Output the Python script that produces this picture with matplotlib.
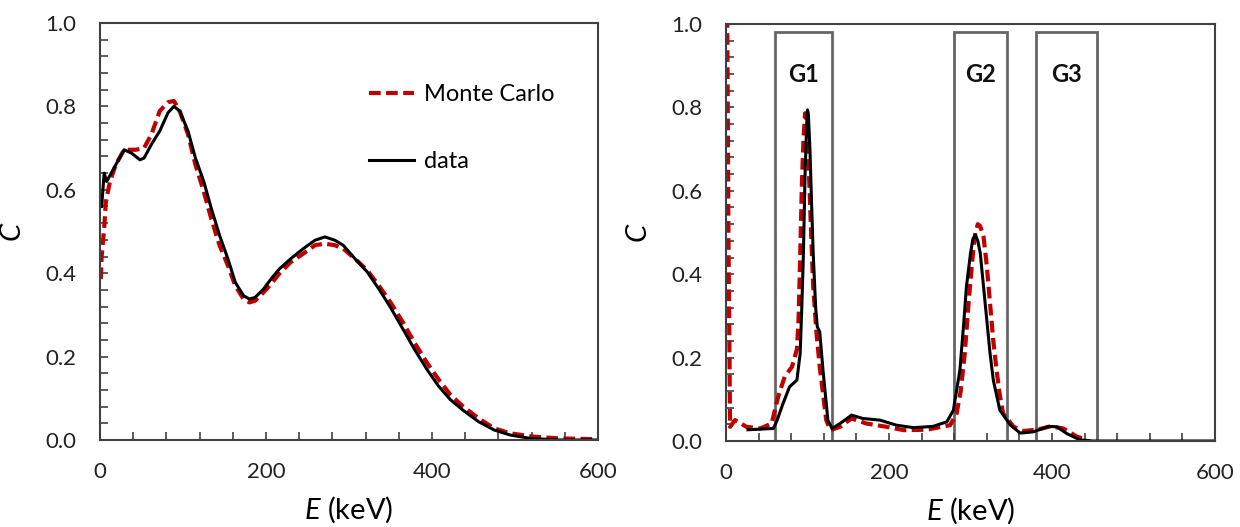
import matplotlib.pyplot as plt
from matplotlib.patches import Rectangle
from matplotlib.ticker import MultipleLocator

plt.rcParams['font.family'] = ['Lato', 'DejaVu Sans']
plt.rcParams['mathtext.fontset'] = 'custom'
plt.rcParams['mathtext.it'] = 'Lato:italic'
plt.rcParams['mathtext.rm'] = 'Lato'

# left panel: spectrum
e_data_l = [2, 5, 8, 19, 29, 38, 48, 53, 62, 72, 82, 89, 96, 106, 115, 125, 134, 144, 154,
            163, 173, 180, 187, 197, 206, 216, 230, 245, 259, 271, 283, 293, 307, 322, 336,
            350, 365, 379, 394, 408, 422, 437, 456, 475, 494, 518, 552, 600]
c_data_l = [0.56, 0.64, 0.62, 0.66, 0.696, 0.688, 0.672, 0.676, 0.709, 0.741, 0.785, 0.80,
            0.789, 0.741, 0.676, 0.62, 0.556, 0.491, 0.435, 0.378, 0.346, 0.338, 0.342,
            0.362, 0.386, 0.41, 0.435, 0.459, 0.479, 0.487, 0.479, 0.467, 0.435, 0.403,
            0.362, 0.318, 0.266, 0.217, 0.169, 0.129, 0.097, 0.072, 0.044, 0.024, 0.012,
            0.004, 0.0, 0.0]
e_mc_l = [1, 2, 5, 7, 12, 19, 29, 43, 53, 62, 72, 82, 89, 96, 106, 115, 125, 134, 144, 154,
          163, 173, 180, 187, 197, 206, 216, 230, 245, 259, 271, 283, 293, 307, 322, 336,
          350, 365, 379, 394, 408, 422, 437, 456, 475, 494, 523, 552, 595]
c_mc_l = [0.386, 0.44, 0.507, 0.57, 0.62, 0.66, 0.696, 0.696, 0.70, 0.733, 0.789, 0.81,
          0.813, 0.789, 0.733, 0.66, 0.596, 0.531, 0.467, 0.419, 0.37, 0.338, 0.33, 0.334,
          0.354, 0.374, 0.399, 0.427, 0.447, 0.467, 0.471, 0.467, 0.459, 0.435, 0.407,
          0.37, 0.33, 0.282, 0.233, 0.185, 0.145, 0.109, 0.081, 0.052, 0.028, 0.016,
          0.008, 0.004, 0.002]

# right panel: spectrum with energy windows
e_data_r = [27, 58, 62, 70, 78, 87, 91, 93, 95, 97, 99, 100, 101, 103, 105, 107, 110, 112,
            115, 119, 125, 130, 140, 154, 168, 189, 209, 230, 254, 271, 279, 287, 292, 295,
            300, 303, 306, 309, 312, 316, 320, 324, 328, 336, 349, 361, 377, 396, 406, 418,
            434, 450, 600]
c_data_r = [0.027, 0.03, 0.046, 0.09, 0.13, 0.146, 0.21, 0.32, 0.45, 0.64, 0.76, 0.794,
            0.785, 0.70, 0.57, 0.45, 0.32, 0.274, 0.262, 0.17, 0.05, 0.03, 0.042, 0.062,
            0.054, 0.05, 0.038, 0.032, 0.035, 0.046, 0.074, 0.17, 0.29, 0.37, 0.45, 0.485,
            0.494, 0.48, 0.45, 0.37, 0.29, 0.21, 0.146, 0.074, 0.038, 0.019, 0.022, 0.035,
            0.034, 0.018, 0.003, 0.0, 0.0]
e_mc_r = [1, 3, 5, 11, 15, 25, 42, 56, 64, 72, 81, 87, 89, 91, 93, 95, 97, 99, 101, 104,
          107, 111, 115, 123, 128, 140, 154, 172, 197, 218, 246, 275, 283, 288, 293, 298,
          303, 306, 309, 312, 316, 320, 324, 328, 332, 336, 340, 353, 365, 381, 398, 414,
          430, 442]
c_mc_r = [1.2, 0.5, 0.034, 0.05, 0.046, 0.034, 0.03, 0.042, 0.106, 0.154, 0.178, 0.22,
          0.29, 0.44, 0.61, 0.72, 0.786, 0.77, 0.69, 0.52, 0.37, 0.26, 0.178, 0.05, 0.026,
          0.034, 0.054, 0.042, 0.034, 0.026, 0.027, 0.038, 0.066, 0.12, 0.21, 0.34, 0.45,
          0.50, 0.52, 0.515, 0.49, 0.42, 0.33, 0.24, 0.17, 0.11, 0.066, 0.034, 0.024,
          0.027, 0.035, 0.03, 0.011, 0.003]

win_names = ['G1', 'G2', 'G3']
win_lo = [60, 280, 380]
win_hi = [130, 345, 455]
win_top = 0.982

red = '#C00000'
spine_col = '#404040'

fig = plt.figure(figsize=(12.4, 5.27), dpi=100)
ax1 = fig.add_axes([100/1240, 87/527, 498/1240, 417/527])
ax2 = fig.add_axes([726/1240, 86/527, 489/1240, 417/527])

for ax in (ax1, ax2):
    ax.set_xlim(0, 600)
    ax.set_ylim(0, 1.0)
    ax.xaxis.set_major_locator(MultipleLocator(200))
    ax.xaxis.set_minor_locator(MultipleLocator(40))
    ax.yaxis.set_major_locator(MultipleLocator(0.2))
    ax.yaxis.set_minor_locator(MultipleLocator(0.04))
    ax.yaxis.set_major_formatter(plt.FormatStrFormatter('%.1f'))
    ax.tick_params(which='both', direction='in', color=spine_col, labelsize=16,
                   labelcolor='#222222', top=False, right=False)
    ax.tick_params(which='major', length=6, width=1.2)
    ax.tick_params(which='minor', length=6, width=1.2)
    ax.tick_params(axis='x', pad=16)
    ax.tick_params(axis='y', pad=17)
    for s in ax.spines.values():
        s.set_color(spine_col)
        s.set_linewidth(1.5)
    ax.set_xlabel(r'$\it{E}$ (keV)', fontsize=21, labelpad=9)
    ax.set_ylabel(r'$\it{C}$', fontsize=21, labelpad=14)

ax1.plot(e_mc_l, c_mc_l, color=red, lw=3, dashes=(2.8, 1.3), label='Monte Carlo')
ax1.plot(e_data_l, c_data_l, color='black', lw=2.2, label='data')
ax1.legend(loc='upper left', bbox_to_anchor=(0.498, 0.904), frameon=False, fontsize=17,
           labelspacing=1.95, handlelength=1.9, handletextpad=0.42)

for name, lo, hi in zip(win_names, win_lo, win_hi):
    ax2.add_patch(Rectangle((lo, 0), hi - lo, win_top, fill=False,
                            edgecolor='#666666', lw=2))
    ax2.text((lo + hi) / 2, 0.88, name, ha='center', va='center',
             fontsize=17, fontweight='bold', color='#111111')

ax2.plot(e_mc_r, c_mc_r, color=red, lw=3, dashes=(2.8, 1.3), clip_on=True)
ax2.plot(e_data_r, c_data_r, color='black', lw=2.2)

fig.savefig('out.png', dpi=100)
